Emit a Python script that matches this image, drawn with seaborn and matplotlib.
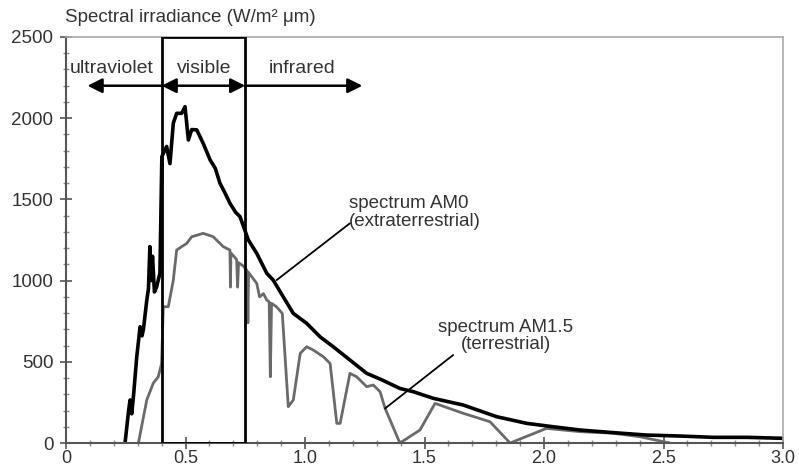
import matplotlib
matplotlib.use("Agg")
import matplotlib.pyplot as plt
import seaborn as sns
import pandas as pd
from matplotlib.patches import Rectangle
from matplotlib.ticker import MultipleLocator

# ---- data ----
wl_am0 = [0.247, 0.262, 0.268, 0.275, 0.283, 0.296, 0.305, 0.31, 0.318, 0.324, 0.338, 0.345,
          0.351, 0.356, 0.362, 0.37, 0.379, 0.393, 0.401, 0.421, 0.435, 0.449, 0.463, 0.484,
          0.498, 0.512, 0.526, 0.547, 0.574, 0.603, 0.625, 0.644, 0.665, 0.686, 0.71, 0.728,
          0.763, 0.798, 0.84, 0.867, 0.909, 0.951, 1.007, 1.063, 1.118, 1.188, 1.258, 1.32,
          1.397, 1.453, 1.537, 1.662, 1.802, 1.928, 2.039, 2.151, 2.29, 2.43, 2.57, 2.708,
          2.848, 3.0]
irr_am0 = [0, 200, 265, 180, 300, 531, 650, 716, 660, 700, 880, 950,
           1209, 1000, 1150, 930, 960, 1046, 1763, 1826, 1720, 1970, 2030, 2030,
           2071, 1866, 1930, 1928, 1845, 1743, 1690, 1600, 1540, 1476, 1420, 1394,
           1250, 1168, 1045, 1003, 900, 798, 737, 654, 593, 511, 429, 390,
           336, 316, 275, 234, 162, 121, 100, 80, 64, 49, 43, 35,
           35, 29]

wl_am15 = [0.303, 0.338, 0.365, 0.386, 0.400, 0.407, 0.428, 0.449, 0.463, 0.484, 0.505, 0.526,
           0.574, 0.616, 0.658, 0.686, 0.688, 0.690, 0.714, 0.718, 0.722, 0.742, 0.758, 0.761,
           0.764, 0.798, 0.81, 0.826, 0.84, 0.85, 0.855, 0.86, 0.88, 0.905, 0.93, 0.951,
           0.98, 1.007, 1.035, 1.077, 1.105, 1.133, 1.147, 1.188, 1.216, 1.258, 1.286, 1.314,
           1.335, 1.397, 1.481, 1.544, 1.662, 1.774, 1.858, 2.01, 2.15, 2.29, 2.40, 2.527]
irr_am15 = [0, 265, 368, 408, 490, 839, 839, 1003, 1188, 1209, 1229, 1270,
            1291, 1270, 1209, 1188, 960, 1170, 1130, 960, 1110, 1090, 1060, 740,
            1050, 983, 900, 920, 880, 870, 408, 860, 840, 798, 224, 265,
            552, 593, 572, 531, 490, 121, 121, 429, 408, 347, 357, 316,
            214, 0, 80, 244, 183, 131, 0, 90, 70, 60, 39, 0]

region_labels = ["ultraviolet", "visible", "infrared"]
x_ticks = [0, 0.5, 1.0, 1.5, 2.0, 2.5, 3.0]
x_tick_labels = ["0", "0.5", "1.0", "1.5", "2.0", "2.5", "3.0"]
y_ticks = [0, 500, 1000, 1500, 2000, 2500]

# ---- plot ----
sns.set_theme(style="white")
plt.rcParams["font.family"] = ["Liberation Sans", "DejaVu Sans"]

fig = plt.figure(figsize=(7.99, 4.70), dpi=100)
ax = fig.add_axes([0.0826, 0.0574, 0.98 - 0.0826, 0.9213 - 0.0574])

df0 = pd.DataFrame({"wl": wl_am0, "irr": irr_am0})
df15 = pd.DataFrame({"wl": wl_am15, "irr": irr_am15})
sns.lineplot(data=df15, x="wl", y="irr", ax=ax, color="#6a6a6a", lw=2.0, sort=False)
sns.lineplot(data=df0, x="wl", y="irr", ax=ax, color="black", lw=2.6, sort=False)

ax.set_xlim(0, 3.0)
ax.set_ylim(0, 2500)
ax.set_xticks(x_ticks)
ax.set_xticklabels(x_tick_labels)
ax.set_yticks(y_ticks)
ax.xaxis.set_minor_locator(MultipleLocator(0.1))
ax.yaxis.set_minor_locator(MultipleLocator(100))
ax.set_xlabel("")
ax.set_ylabel("")
ax.tick_params(axis="y", which="major", direction="inout", length=8, width=1.2,
               color="#555555", labelsize=13.5, labelcolor="#333333", pad=5)
ax.tick_params(axis="x", which="major", direction="inout", length=8, width=1.2,
               color="#555555", labelsize=13, labelcolor="#333333", pad=1)
ax.tick_params(axis="both", which="minor", direction="inout", length=4, width=1.0,
               color="#888888")
ax.tick_params(axis="both", which="both", bottom=True, left=True, top=False, right=False)

for side in ["left", "bottom"]:
    ax.spines[side].set_color("#555555")
    ax.spines[side].set_linewidth(1.5)
for side in ["top", "right"]:
    ax.spines[side].set_color("#aaaaaa")
    ax.spines[side].set_linewidth(1.2)

# visible band box
ax.add_patch(Rectangle((0.4, 0), 0.35, 2500, fill=False, edgecolor="black", lw=2.0, zorder=5))

# region arrows
arrow_y = 2200
hp = dict(color="black", lw=1.8, mutation_scale=22, shrinkA=0, shrinkB=0)
ax.annotate("", xy=(0.09, arrow_y), xytext=(0.4, arrow_y),
            arrowprops=dict(arrowstyle="-|>", **hp))
ax.annotate("", xy=(0.75, arrow_y), xytext=(0.4, arrow_y),
            arrowprops=dict(arrowstyle="<|-|>", **hp))
ax.annotate("", xy=(1.24, arrow_y), xytext=(0.75, arrow_y),
            arrowprops=dict(arrowstyle="-|>", **hp))

label_kw = dict(fontsize=14, color="#333333", ha="center", va="center")
ax.text(0.19, 2305, region_labels[0], **label_kw)
ax.text(0.58, 2305, region_labels[1], **label_kw)
ax.text(0.99, 2305, region_labels[2], **label_kw)

# curve labels
ax.plot([0.881, 1.188], [1003, 1353], color="black", lw=1.3)
ax.text(1.185, 1420, "spectrum AM0\n(extraterrestrial)", fontsize=13.5, color="#333333",
        ha="left", va="center", linespacing=1.05)
ax.plot([1.335, 1.62], [213, 542], color="black", lw=1.3)
ax.text(1.84, 658, "spectrum AM1.5\n(terrestrial)", fontsize=13.5, color="#333333",
        ha="center", va="center", linespacing=1.05)

fig.text(0.0814, 0.962, "Spectral irradiance (W/m² μm)", fontsize=13.5, color="#333333",
         ha="left", va="center")

fig.savefig("out.png", dpi=100)
